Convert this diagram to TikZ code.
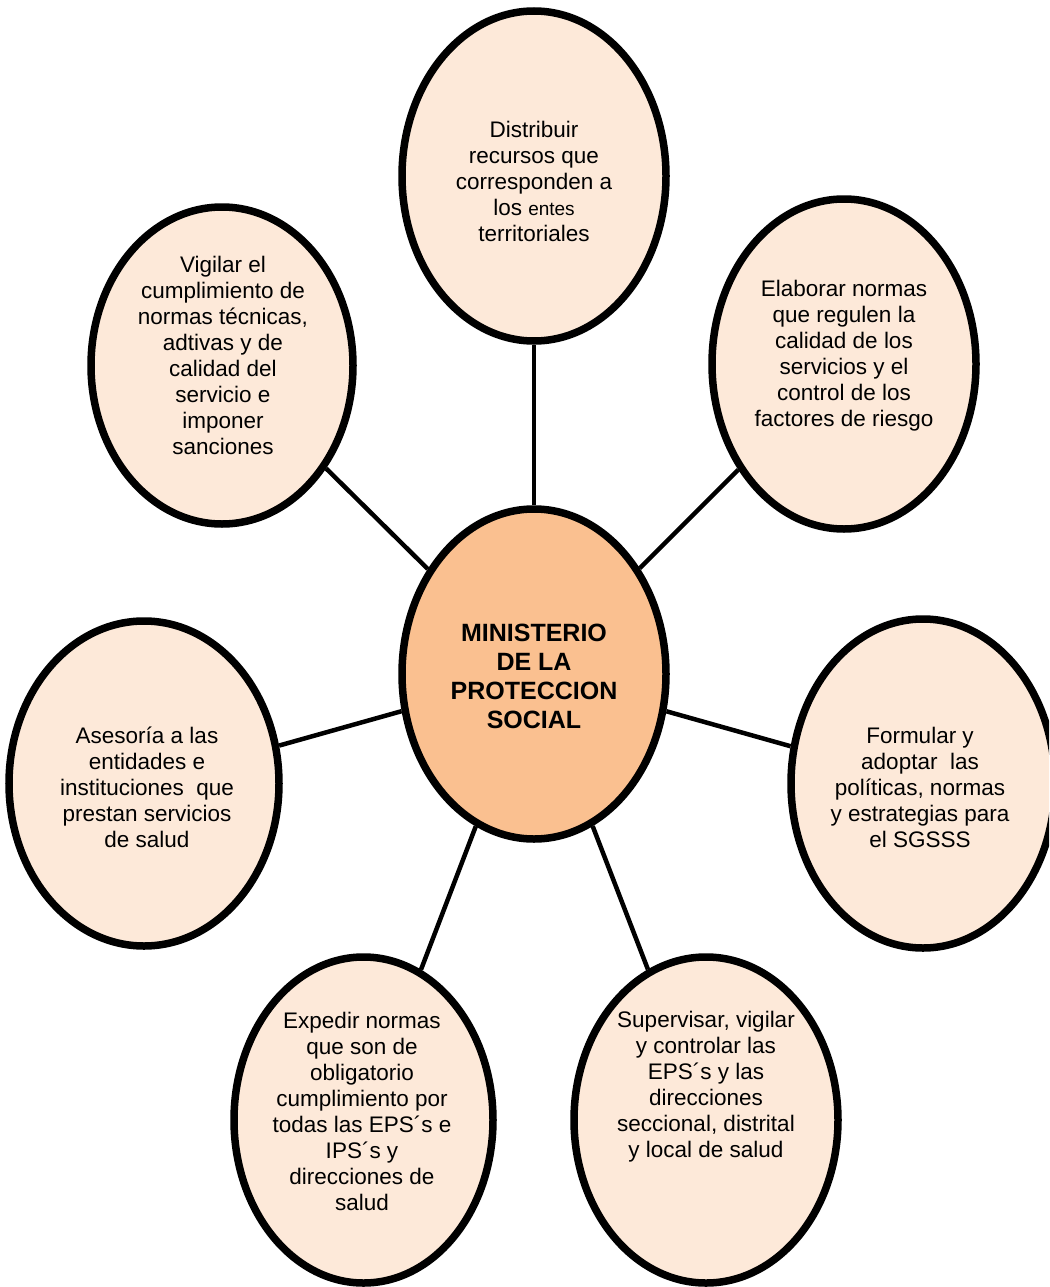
\documentclass[tikz,border=0pt]{standalone}
\usepackage{fontspec}
\setmainfont{Liberation Sans}
\usetikzlibrary{shapes.geometric}
\definecolor{peach}{RGB}{253,233,217}
\definecolor{orangec}{RGB}{250,192,144}
\begin{document}
\begin{tikzpicture}[x=1pt,y=-1pt,
  bub/.style={ellipse, draw=black, line width=7.5pt, fill=peach, inner sep=0pt},
  txt/.style={align=center, font=\fontsize{22.5}{26}\selectfont, inner sep=0pt},
  ctxt/.style={align=center, font=\fontsize{25}{29}\selectfont\bfseries, inner sep=0pt},
  link/.style={line width=4.5pt}]
\clip (0,0) rectangle (1049,1287);
% ellipses
\node[bub, minimum width=264pt, minimum height=330pt] (top) at (534,176) {};
\node[bub, minimum width=262pt, minimum height=317pt] (tl) at (222,365.5) {};
\node[bub, minimum width=264pt, minimum height=330pt] (tr) at (844,364) {};
\node[bub, minimum width=270pt, minimum height=325pt] (lf) at (144,783.5) {};
\node[bub, minimum width=264pt, minimum height=329pt] (rt) at (923,783.5) {};
\node[bub, minimum width=259pt, minimum height=326pt] (bl) at (363.5,1120) {};
\node[bub, minimum width=264pt, minimum height=326pt] (br) at (706,1120) {};
\node[bub, fill=orangec, minimum width=264pt, minimum height=330pt] (mid) at (534,674) {};
% connectors
\draw[link] (mid) -- (top);
\draw[link] (mid) -- (tl);
\draw[link] (mid) -- (tr);
\draw[link] (mid) -- (lf);
\draw[link] (mid) -- (rt);
\draw[link] (mid) -- (bl);
\draw[link] (mid) -- (br);
% texts
\node[txt] (ttop) at (534,181) {Distribuir\\recursos que\\corresponden a\\los {\fontsize{19}{26}\selectfont entes}\\territoriales};
\node[txt] (ttl) at (223,355) {Vigilar el\\cumplimiento de\\normas técnicas,\\adtivas y de\\calidad del\\servicio e\\imponer\\sanciones};
\node[txt] (ttr) at (844,356) {Elaborar normas\\que regulen la\\calidad de los\\servicios y el\\control de los\\factores de riesgo};
\node[txt] (tlf) at (147,787) {Asesoría a las\\entidades e\\instituciones\ \ que\\prestan servicios\\de salud};
\node[txt] (trt) at (920,787) {Formular y\\adoptar\ \ las\\políticas, normas\\y estrategias para\\el SGSSS};
\node[txt] (tbl) at (362,1111) {Expedir normas\\que son de\\obligatorio\\cumplimiento por\\todas las EPS´s e\\IPS´s y\\direcciones de\\salud};
\node[txt] (tbr) at (706,1087) {Supervisar, vigilar\\y controlar las\\EPS´s y las\\direcciones\\seccional, distrital\\y local de salud};
\node[ctxt] (tmid) at (534,676) {MINISTERIO\\DE LA\\PROTECCION\\SOCIAL};
\end{tikzpicture}
\end{document}
